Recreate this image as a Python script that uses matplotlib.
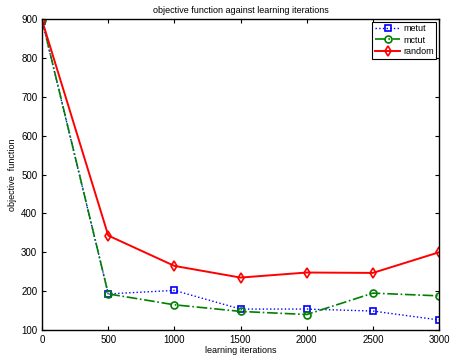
import numpy as np
from matplotlib import pyplot as plt

plt.rcParams['font.family'] = ['Liberation Sans', 'DejaVu Sans']

iters = [0, 500, 1000, 1500, 2000, 2500, 3000]
metut = [895, 193, 202, 154, 154, 149, 126]
mctut = [897, 193, 165, 148, 140, 195, 188]
random = [896, 343, 265, 235, 248, 247, 300]

fig = plt.figure(figsize=(4.53, 3.58), dpi=100)
ax = fig.add_axes([0.093, 0.078, 0.876, 0.869])

ax.plot(iters, metut, ':', color='blue', lw=1, marker='s', ms=4.5,
        mfc='none', mew=1.2, label='metut')
ax.plot(iters, mctut, '-.', color=(0, 0.5, 0), lw=1.2, marker='o', ms=5,
        mfc='none', mew=1.2, label='mctut')
ax.plot(iters, random, '-', color='red', lw=1.4, marker='d', ms=5.5,
        mfc='none', mew=1.2, label='random')

ax.set_xlim(0, 3000)
ax.set_ylim(100, 900)
ax.set_xticks(np.arange(0, 3001, 500))
ax.set_yticks(np.arange(100, 901, 100))
ax.tick_params(direction='in', top=True, right=True, labelsize=7, length=3)
for s in ax.spines.values():
    s.set_linewidth(1.0)

ax.set_title('objective function against learning iterations', fontsize=6.5, pad=4)
ax.set_xlabel('learning iterations', fontsize=6.5, labelpad=1)
ax.set_ylabel('objective  function', fontsize=6.5, labelpad=3)

leg = ax.legend(loc='upper right', fontsize=6.5, fancybox=False, framealpha=1,
                edgecolor='black', borderaxespad=0.3, handlelength=2.8,
                borderpad=0.3, labelspacing=0.25, handletextpad=0.3)
leg.get_frame().set_linewidth(0.8)

fig.savefig('out.png', dpi=100)
